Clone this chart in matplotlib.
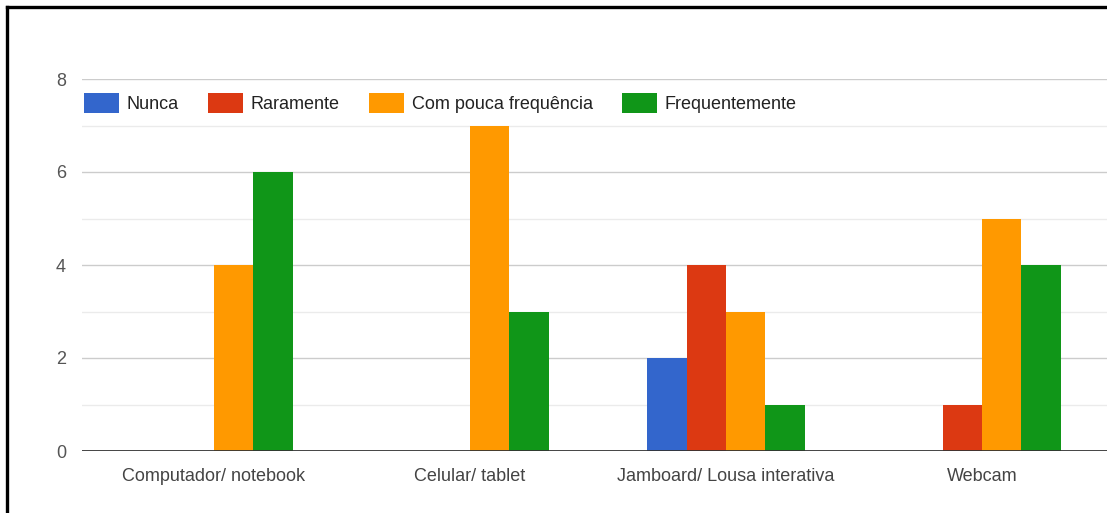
import numpy as np
import matplotlib.pyplot as plt
from matplotlib.lines import Line2D

# --- data ---
categories = ['Computador/ notebook', 'Celular/ tablet',
              'Jamboard/ Lousa interativa', 'Webcam']
series_names = ['Nunca', 'Raramente', 'Com pouca frequência', 'Frequentemente']
nunca = [0, 0, 2, 0]
raramente = [0, 0, 4, 1]
pouca_freq = [4, 7, 3, 5]
frequente = [6, 3, 1, 4]
series_values = [nunca, raramente, pouca_freq, frequente]
colors = ['#3366cc', '#dc3912', '#ff9900', '#109618']

plt.rcParams['font.family'] = ['Liberation Sans', 'DejaVu Sans']

W, H = 1107, 513
fig = plt.figure(figsize=(W / 100, H / 100), dpi=100)

# axes box in pixels (plot area runs a little past the right edge)
left_px, right_px = 82, 1110
top_px, base_px = 79, 451
ax = fig.add_axes([left_px / W, 1 - base_px / H,
                   (right_px - left_px) / W, (base_px - top_px) / H])

step_px = 255.7
ax.set_xlim(-0.5 - (86 - left_px) / step_px, 3.5)
ax.set_ylim(0, 8)

x = np.arange(len(categories))
width = 0.1537
for i, (vals, col) in enumerate(zip(series_values, colors)):
    ax.bar(x + (i - 1.5) * width, vals, width, color=col,
           label=series_names[i], zorder=3, linewidth=0)

# gridlines: darker on even values, faint on odd ones
for v in range(1, 9):
    c = '#cccccc' if v % 2 == 0 else '#ebebeb'
    ax.axhline(v, color=c, linewidth=1.0, zorder=1)
ax.axhline(0, color='#333333', linewidth=2.0, zorder=4)

for s in ax.spines.values():
    s.set_visible(False)

ax.set_xticks(x)
ax.set_xticklabels(categories)
ax.set_yticks([0, 2, 4, 6, 8])
ax.tick_params(axis='both', length=0, labelsize=13, labelcolor='#444444')
ax.tick_params(axis='y', labelcolor='#555555', pad=11.5)
ax.tick_params(axis='x', pad=12)

ax.legend(ncol=4, loc='center left',
          bbox_to_anchor=(84 / W, 1 - 103 / H), bbox_transform=fig.transFigure,
          frameon=False, fontsize=13, labelcolor='#222222',
          handlelength=1.94, handleheight=1.3, handletextpad=0.44,
          columnspacing=1.6, borderpad=0, borderaxespad=0)

# black frame on the top and left sides
fig.add_artist(Line2D([7 / W, 1], [1 - 7 / H, 1 - 7 / H],
                      color='black', linewidth=2.4, transform=fig.transFigure))
fig.add_artist(Line2D([7 / W, 7 / W], [0, 1 - 7 / H],
                      color='black', linewidth=2.4, transform=fig.transFigure))

fig.savefig('out.png', dpi=100)
